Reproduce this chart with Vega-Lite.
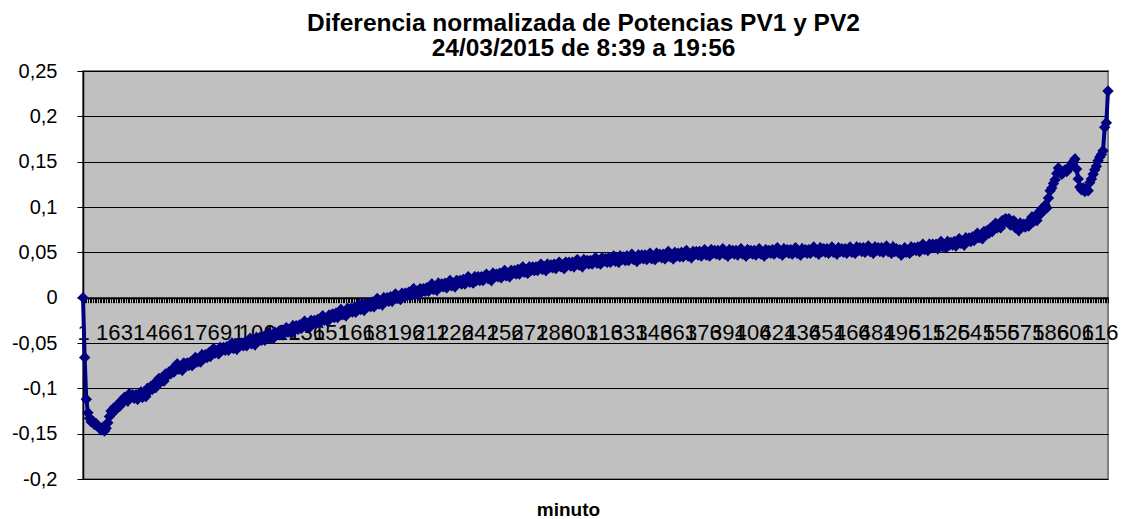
{
"$schema": "https://vega.github.io/schema/vega-lite/v6.json",
"width": 1025,
"height": 408,
"autosize": "none",
"padding": {"left": 83, "top": 71, "right": 19, "bottom": 40},
"background": "white",
"title": {"text": ["Diferencia normalizada de Potencias PV1 y PV2", "24/03/2015 de 8:39 a 19:56"], "font": "Liberation Sans", "fontSize": 24.5, "fontWeight": "bold", "color": "black", "anchor": "middle", "frame": "group", "offset": 0, "lineHeight": 25, "dx": -12},
"config": {
  "locale": {"number": {"decimal": ",", "thousands": ".", "grouping": [3], "currency": ["", " €"], "minus": "-"}},
  "view": {"fill": "#C0C0C0", "stroke": "#808080", "strokeWidth": 2},
  "axis": {"labelFont": "Liberation Sans", "titleFont": "Liberation Sans", "labelColor": "black", "titleColor": "black"}
},
"data": {"values": [
{"m":1,"v":0},{"m":2,"v":-0.066},{"m":3,"v":-0.112},{"m":4,"v":-0.127},{"m":5,"v":-0.133},{"m":6,"v":-0.137},{"m":7,"v":-0.136},{"m":8,"v":-0.140},{"m":9,"v":-0.139},{"m":10,"v":-0.142},
{"m":11,"v":-0.144},{"m":12,"v":-0.146},{"m":13,"v":-0.143},{"m":14,"v":-0.147},{"m":15,"v":-0.144},{"m":16,"v":-0.138},{"m":17,"v":-0.131},{"m":18,"v":-0.125},{"m":19,"v":-0.127},{"m":20,"v":-0.121},
{"m":21,"v":-0.123},{"m":22,"v":-0.118},{"m":23,"v":-0.120},{"m":24,"v":-0.114},{"m":25,"v":-0.116},{"m":26,"v":-0.110},{"m":27,"v":-0.110},{"m":28,"v":-0.114},{"m":29,"v":-0.106},{"m":30,"v":-0.110},
{"m":31,"v":-0.107},{"m":32,"v":-0.111},{"m":33,"v":-0.107},{"m":34,"v":-0.112},{"m":35,"v":-0.108},{"m":36,"v":-0.104},{"m":37,"v":-0.110},{"m":38,"v":-0.106},{"m":39,"v":-0.109},{"m":40,"v":-0.100},
{"m":41,"v":-0.103},{"m":42,"v":-0.098},{"m":43,"v":-0.101},{"m":44,"v":-0.095},{"m":45,"v":-0.099},{"m":46,"v":-0.093},{"m":47,"v":-0.089},{"m":48,"v":-0.093},{"m":49,"v":-0.090},{"m":50,"v":-0.092},
{"m":51,"v":-0.084},{"m":52,"v":-0.086},{"m":53,"v":-0.082},{"m":54,"v":-0.084},{"m":55,"v":-0.079},{"m":56,"v":-0.082},{"m":57,"v":-0.077},{"m":58,"v":-0.073},{"m":59,"v":-0.079},{"m":60,"v":-0.076},
{"m":61,"v":-0.080},{"m":62,"v":-0.072},{"m":63,"v":-0.075},{"m":64,"v":-0.072},{"m":65,"v":-0.075},{"m":66,"v":-0.071},{"m":67,"v":-0.075},{"m":68,"v":-0.070},{"m":69,"v":-0.066},{"m":70,"v":-0.071},
{"m":71,"v":-0.068},{"m":72,"v":-0.071},{"m":73,"v":-0.063},{"m":74,"v":-0.067},{"m":75,"v":-0.063},{"m":76,"v":-0.066},{"m":77,"v":-0.061},{"m":78,"v":-0.065},{"m":79,"v":-0.060},{"m":80,"v":-0.056},
{"m":81,"v":-0.061},{"m":82,"v":-0.059},{"m":83,"v":-0.062},{"m":84,"v":-0.055},{"m":85,"v":-0.058},{"m":86,"v":-0.055},{"m":87,"v":-0.058},{"m":88,"v":-0.054},{"m":89,"v":-0.058},{"m":90,"v":-0.054},
{"m":91,"v":-0.050},{"m":92,"v":-0.056},{"m":93,"v":-0.053},{"m":94,"v":-0.057},{"m":95,"v":-0.050},{"m":96,"v":-0.053},{"m":97,"v":-0.050},{"m":98,"v":-0.053},{"m":99,"v":-0.049},{"m":100,"v":-0.053},
{"m":101,"v":-0.049},{"m":102,"v":-0.045},{"m":103,"v":-0.051},{"m":104,"v":-0.048},{"m":105,"v":-0.052},{"m":106,"v":-0.044},{"m":107,"v":-0.048},{"m":108,"v":-0.044},{"m":109,"v":-0.047},{"m":110,"v":-0.043},
{"m":111,"v":-0.047},{"m":112,"v":-0.043},{"m":113,"v":-0.039},{"m":114,"v":-0.045},{"m":115,"v":-0.042},{"m":116,"v":-0.045},{"m":117,"v":-0.038},{"m":118,"v":-0.041},{"m":119,"v":-0.038},{"m":120,"v":-0.041},
{"m":121,"v":-0.036},{"m":122,"v":-0.041},{"m":123,"v":-0.036},{"m":124,"v":-0.033},{"m":125,"v":-0.038},{"m":126,"v":-0.036},{"m":127,"v":-0.039},{"m":128,"v":-0.031},{"m":129,"v":-0.035},{"m":130,"v":-0.031},
{"m":131,"v":-0.035},{"m":132,"v":-0.030},{"m":133,"v":-0.034},{"m":134,"v":-0.030},{"m":135,"v":-0.026},{"m":136,"v":-0.032},{"m":137,"v":-0.029},{"m":138,"v":-0.033},{"m":139,"v":-0.025},{"m":140,"v":-0.028},
{"m":141,"v":-0.025},{"m":142,"v":-0.028},{"m":143,"v":-0.024},{"m":144,"v":-0.028},{"m":145,"v":-0.023},{"m":146,"v":-0.020},{"m":147,"v":-0.025},{"m":148,"v":-0.023},{"m":149,"v":-0.026},{"m":150,"v":-0.019},
{"m":151,"v":-0.022},{"m":152,"v":-0.018},{"m":153,"v":-0.022},{"m":154,"v":-0.017},{"m":155,"v":-0.022},{"m":156,"v":-0.017},{"m":157,"v":-0.013},{"m":158,"v":-0.019},{"m":159,"v":-0.016},{"m":160,"v":-0.020},
{"m":161,"v":-0.012},{"m":162,"v":-0.016},{"m":163,"v":-0.012},{"m":164,"v":-0.016},{"m":165,"v":-0.011},{"m":166,"v":-0.016},{"m":167,"v":-0.011},{"m":168,"v":-0.007},{"m":169,"v":-0.013},{"m":170,"v":-0.010},
{"m":171,"v":-0.014},{"m":172,"v":-0.006},{"m":173,"v":-0.010},{"m":174,"v":-0.006},{"m":175,"v":-0.010},{"m":176,"v":-0.005},{"m":177,"v":-0.010},{"m":178,"v":-0.005},{"m":179,"v":-0.001},{"m":180,"v":-0.007},
{"m":181,"v":-0.004},{"m":182,"v":-0.008},{"m":183,"v":0.000},{"m":184,"v":-0.004},{"m":185,"v":0.000},{"m":186,"v":-0.004},{"m":187,"v":0.001},{"m":188,"v":-0.004},{"m":189,"v":0.001},{"m":190,"v":0.004},
{"m":191,"v":-0.001},{"m":192,"v":0.001},{"m":193,"v":-0.002},{"m":194,"v":0.005},{"m":195,"v":0.002},{"m":196,"v":0.005},{"m":197,"v":0.002},{"m":198,"v":0.006},{"m":199,"v":0.002},{"m":200,"v":0.006},
{"m":201,"v":0.010},{"m":202,"v":0.004},{"m":203,"v":0.007},{"m":204,"v":0.003},{"m":205,"v":0.010},{"m":206,"v":0.007},{"m":207,"v":0.010},{"m":208,"v":0.007},{"m":209,"v":0.011},{"m":210,"v":0.007},
{"m":211,"v":0.011},{"m":212,"v":0.015},{"m":213,"v":0.009},{"m":214,"v":0.012},{"m":215,"v":0.008},{"m":216,"v":0.016},{"m":217,"v":0.012},{"m":218,"v":0.015},{"m":219,"v":0.012},{"m":220,"v":0.016},
{"m":221,"v":0.011},{"m":222,"v":0.016},{"m":223,"v":0.019},{"m":224,"v":0.013},{"m":225,"v":0.016},{"m":226,"v":0.012},{"m":227,"v":0.019},{"m":228,"v":0.016},{"m":229,"v":0.019},{"m":230,"v":0.015},
{"m":231,"v":0.020},{"m":232,"v":0.015},{"m":233,"v":0.019},{"m":234,"v":0.023},{"m":235,"v":0.017},{"m":236,"v":0.019},{"m":237,"v":0.016},{"m":238,"v":0.023},{"m":239,"v":0.019},{"m":240,"v":0.023},
{"m":241,"v":0.019},{"m":242,"v":0.023},{"m":243,"v":0.019},{"m":244,"v":0.023},{"m":245,"v":0.026},{"m":246,"v":0.021},{"m":247,"v":0.023},{"m":248,"v":0.019},{"m":249,"v":0.027},{"m":250,"v":0.023},
{"m":251,"v":0.026},{"m":252,"v":0.023},{"m":253,"v":0.027},{"m":254,"v":0.022},{"m":255,"v":0.027},{"m":256,"v":0.030},{"m":257,"v":0.024},{"m":258,"v":0.027},{"m":259,"v":0.023},{"m":260,"v":0.030},
{"m":261,"v":0.027},{"m":262,"v":0.030},{"m":263,"v":0.026},{"m":264,"v":0.031},{"m":265,"v":0.026},{"m":266,"v":0.030},{"m":267,"v":0.034},{"m":268,"v":0.028},{"m":269,"v":0.030},{"m":270,"v":0.027},
{"m":271,"v":0.034},{"m":272,"v":0.030},{"m":273,"v":0.034},{"m":274,"v":0.030},{"m":275,"v":0.034},{"m":276,"v":0.030},{"m":277,"v":0.034},{"m":278,"v":0.037},{"m":279,"v":0.031},{"m":280,"v":0.034},
{"m":281,"v":0.030},{"m":282,"v":0.037},{"m":283,"v":0.033},{"m":284,"v":0.036},{"m":285,"v":0.033},{"m":286,"v":0.037},{"m":287,"v":0.032},{"m":288,"v":0.036},{"m":289,"v":0.039},{"m":290,"v":0.034},
{"m":291,"v":0.036},{"m":292,"v":0.032},{"m":293,"v":0.039},{"m":294,"v":0.036},{"m":295,"v":0.039},{"m":296,"v":0.035},{"m":297,"v":0.039},{"m":298,"v":0.034},{"m":299,"v":0.039},{"m":300,"v":0.042},
{"m":301,"v":0.036},{"m":302,"v":0.038},{"m":303,"v":0.034},{"m":304,"v":0.042},{"m":305,"v":0.038},{"m":306,"v":0.041},{"m":307,"v":0.037},{"m":308,"v":0.041},{"m":309,"v":0.037},{"m":310,"v":0.041},
{"m":311,"v":0.044},{"m":312,"v":0.038},{"m":313,"v":0.040},{"m":314,"v":0.037},{"m":315,"v":0.044},{"m":316,"v":0.040},{"m":317,"v":0.043},{"m":318,"v":0.039},{"m":319,"v":0.044},{"m":320,"v":0.039},
{"m":321,"v":0.043},{"m":322,"v":0.046},{"m":323,"v":0.040},{"m":324,"v":0.043},{"m":325,"v":0.039},{"m":326,"v":0.046},{"m":327,"v":0.042},{"m":328,"v":0.045},{"m":329,"v":0.041},{"m":330,"v":0.046},
{"m":331,"v":0.041},{"m":332,"v":0.045},{"m":333,"v":0.048},{"m":334,"v":0.042},{"m":335,"v":0.044},{"m":336,"v":0.040},{"m":337,"v":0.047},{"m":338,"v":0.043},{"m":339,"v":0.047},{"m":340,"v":0.043},
{"m":341,"v":0.047},{"m":342,"v":0.042},{"m":343,"v":0.046},{"m":344,"v":0.049},{"m":345,"v":0.043},{"m":346,"v":0.045},{"m":347,"v":0.042},{"m":348,"v":0.049},{"m":349,"v":0.045},{"m":350,"v":0.048},
{"m":351,"v":0.044},{"m":352,"v":0.048},{"m":353,"v":0.043},{"m":354,"v":0.047},{"m":355,"v":0.051},{"m":356,"v":0.045},{"m":357,"v":0.047},{"m":358,"v":0.043},{"m":359,"v":0.050},{"m":360,"v":0.046},
{"m":361,"v":0.049},{"m":362,"v":0.045},{"m":363,"v":0.050},{"m":364,"v":0.045},{"m":365,"v":0.049},{"m":366,"v":0.052},{"m":367,"v":0.046},{"m":368,"v":0.048},{"m":369,"v":0.044},{"m":370,"v":0.051},
{"m":371,"v":0.048},{"m":372,"v":0.051},{"m":373,"v":0.047},{"m":374,"v":0.051},{"m":375,"v":0.046},{"m":376,"v":0.050},{"m":377,"v":0.053},{"m":378,"v":0.047},{"m":379,"v":0.049},{"m":380,"v":0.046},
{"m":381,"v":0.053},{"m":382,"v":0.049},{"m":383,"v":0.052},{"m":384,"v":0.048},{"m":385,"v":0.052},{"m":386,"v":0.047},{"m":387,"v":0.051},{"m":388,"v":0.054},{"m":389,"v":0.048},{"m":390,"v":0.050},
{"m":391,"v":0.046},{"m":392,"v":0.053},{"m":393,"v":0.049},{"m":394,"v":0.052},{"m":395,"v":0.048},{"m":396,"v":0.052},{"m":397,"v":0.047},{"m":398,"v":0.051},{"m":399,"v":0.054},{"m":400,"v":0.048},
{"m":401,"v":0.050},{"m":402,"v":0.046},{"m":403,"v":0.053},{"m":404,"v":0.049},{"m":405,"v":0.052},{"m":406,"v":0.048},{"m":407,"v":0.052},{"m":408,"v":0.047},{"m":409,"v":0.051},{"m":410,"v":0.054},
{"m":411,"v":0.048},{"m":412,"v":0.050},{"m":413,"v":0.046},{"m":414,"v":0.053},{"m":415,"v":0.049},{"m":416,"v":0.052},{"m":417,"v":0.049},{"m":418,"v":0.053},{"m":419,"v":0.048},{"m":420,"v":0.052},
{"m":421,"v":0.055},{"m":422,"v":0.049},{"m":423,"v":0.051},{"m":424,"v":0.047},{"m":425,"v":0.054},{"m":426,"v":0.050},{"m":427,"v":0.053},{"m":428,"v":0.049},{"m":429,"v":0.053},{"m":430,"v":0.048},
{"m":431,"v":0.052},{"m":432,"v":0.055},{"m":433,"v":0.049},{"m":434,"v":0.051},{"m":435,"v":0.047},{"m":436,"v":0.054},{"m":437,"v":0.050},{"m":438,"v":0.053},{"m":439,"v":0.049},{"m":440,"v":0.053},
{"m":441,"v":0.049},{"m":442,"v":0.053},{"m":443,"v":0.056},{"m":444,"v":0.050},{"m":445,"v":0.052},{"m":446,"v":0.048},{"m":447,"v":0.055},{"m":448,"v":0.051},{"m":449,"v":0.054},{"m":450,"v":0.050},
{"m":451,"v":0.054},{"m":452,"v":0.049},{"m":453,"v":0.053},{"m":454,"v":0.056},{"m":455,"v":0.050},{"m":456,"v":0.052},{"m":457,"v":0.048},{"m":458,"v":0.055},{"m":459,"v":0.051},{"m":460,"v":0.054},
{"m":461,"v":0.050},{"m":462,"v":0.054},{"m":463,"v":0.049},{"m":464,"v":0.053},{"m":465,"v":0.056},{"m":466,"v":0.050},{"m":467,"v":0.052},{"m":468,"v":0.049},{"m":469,"v":0.056},{"m":470,"v":0.052},
{"m":471,"v":0.055},{"m":472,"v":0.051},{"m":473,"v":0.055},{"m":474,"v":0.050},{"m":475,"v":0.054},{"m":476,"v":0.057},{"m":477,"v":0.051},{"m":478,"v":0.053},{"m":479,"v":0.049},{"m":480,"v":0.056},
{"m":481,"v":0.052},{"m":482,"v":0.055},{"m":483,"v":0.051},{"m":484,"v":0.055},{"m":485,"v":0.050},{"m":486,"v":0.054},{"m":487,"v":0.057},{"m":488,"v":0.051},{"m":489,"v":0.053},{"m":490,"v":0.049},
{"m":491,"v":0.056},{"m":492,"v":0.051},{"m":493,"v":0.054},{"m":494,"v":0.050},{"m":495,"v":0.053},{"m":496,"v":0.047},{"m":497,"v":0.051},{"m":498,"v":0.055},{"m":499,"v":0.050},{"m":500,"v":0.052},
{"m":501,"v":0.049},{"m":502,"v":0.056},{"m":503,"v":0.052},{"m":504,"v":0.055},{"m":505,"v":0.052},{"m":506,"v":0.056},{"m":507,"v":0.051},{"m":508,"v":0.056},{"m":509,"v":0.059},{"m":510,"v":0.053},
{"m":511,"v":0.055},{"m":512,"v":0.052},{"m":513,"v":0.059},{"m":514,"v":0.055},{"m":515,"v":0.059},{"m":516,"v":0.055},{"m":517,"v":0.059},{"m":518,"v":0.054},{"m":519,"v":0.059},{"m":520,"v":0.062},
{"m":521,"v":0.056},{"m":522,"v":0.058},{"m":523,"v":0.055},{"m":524,"v":0.062},{"m":525,"v":0.058},{"m":526,"v":0.061},{"m":527,"v":0.058},{"m":528,"v":0.062},{"m":529,"v":0.057},{"m":530,"v":0.062},
{"m":531,"v":0.065},{"m":532,"v":0.060},{"m":533,"v":0.062},{"m":534,"v":0.058},{"m":535,"v":0.066},{"m":536,"v":0.062},{"m":537,"v":0.066},{"m":538,"v":0.062},{"m":539,"v":0.067},{"m":540,"v":0.063},
{"m":541,"v":0.067},{"m":542,"v":0.071},{"m":543,"v":0.066},{"m":544,"v":0.068},{"m":545,"v":0.065},{"m":546,"v":0.073},{"m":547,"v":0.070},{"m":548,"v":0.074},{"m":549,"v":0.071},{"m":550,"v":0.077},
{"m":551,"v":0.073},{"m":552,"v":0.078},{"m":553,"v":0.082},{"m":554,"v":0.077},{"m":555,"v":0.080},{"m":556,"v":0.077},{"m":557,"v":0.085},{"m":558,"v":0.083},{"m":559,"v":0.087},{"m":560,"v":0.084},
{"m":561,"v":0.087},{"m":562,"v":0.080},{"m":563,"v":0.083},{"m":564,"v":0.085},{"m":565,"v":0.077},{"m":566,"v":0.078},{"m":567,"v":0.074},{"m":568,"v":0.082},{"m":569,"v":0.078},{"m":570,"v":0.081},
{"m":571,"v":0.078},{"m":572,"v":0.082},{"m":573,"v":0.079},{"m":574,"v":0.084},{"m":575,"v":0.089},{"m":576,"v":0.084},{"m":577,"v":0.088},{"m":578,"v":0.085},{"m":579,"v":0.094},{"m":580,"v":0.092},
{"m":581,"v":0.098},{"m":582,"v":0.096},{"m":583,"v":0.102},{"m":584,"v":0.099},{"m":585,"v":0.110},{"m":586,"v":0.118},{"m":587,"v":0.121},{"m":588,"v":0.126},{"m":589,"v":0.130},{"m":590,"v":0.137},
{"m":591,"v":0.143},{"m":592,"v":0.140},{"m":593,"v":0.136},{"m":594,"v":0.138},{"m":595,"v":0.141},{"m":596,"v":0.139},{"m":597,"v":0.143},{"m":598,"v":0.144},{"m":599,"v":0.147},{"m":600,"v":0.150},
{"m":601,"v":0.153},{"m":602,"v":0.142},{"m":603,"v":0.131},{"m":604,"v":0.122},{"m":605,"v":0.119},{"m":606,"v":0.121},{"m":607,"v":0.117},{"m":608,"v":0.120},{"m":609,"v":0.118},{"m":610,"v":0.127},
{"m":611,"v":0.131},{"m":612,"v":0.136},{"m":613,"v":0.141},{"m":614,"v":0.145},{"m":615,"v":0.151},{"m":616,"v":0.155},{"m":617,"v":0.158},{"m":618,"v":0.162},{"m":619,"v":0.188},{"m":620,"v":0.193},
{"m":621,"v":0.228}
]},
"mark": {"type": "line", "color": "#000080", "strokeWidth": 4, "point": {"shape": "diamond", "filled": true, "size": 130, "color": "#000080"}},
"encoding": {
  "x": {"field": "m", "type": "quantitative", "scale": {"domain": [1, 621], "nice": false, "zero": false},
    "title": "minuto",
    "axis": {"offset": -181.33, "tickCount": 620, "labelExpr": "(datum.value - 1) % 15 == 0 ? datum.label : ''", "labelOverlap": false, "labelFlush": false, "labelBound": false, "labelFontSize": 22, "labelPadding": 20, "tickSize": 5, "tickColor": "black", "tickWidth": 1, "domainColor": "black", "domainWidth": 2, "grid": false, "titleFontSize": 19, "titleFontWeight": "bold", "titleY": 212, "titleX": 485, "titleBaseline": "middle"}},
  "y": {"field": "v", "type": "quantitative", "scale": {"domain": [-0.2, 0.25], "nice": false, "zero": false},
    "title": null,
    "axis": {"values": [-0.2, -0.15, -0.1, -0.05, 0, 0.05, 0.1, 0.15, 0.2, 0.25], "format": ".2~f", "labelFontSize": 20, "labelPadding": 20, "tickSize": 6, "tickColor": "black", "domainColor": "black", "domainWidth": 1.5, "grid": true, "gridColor": "black", "gridWidth": 1, "gridOpacity": 1}}
}
}
